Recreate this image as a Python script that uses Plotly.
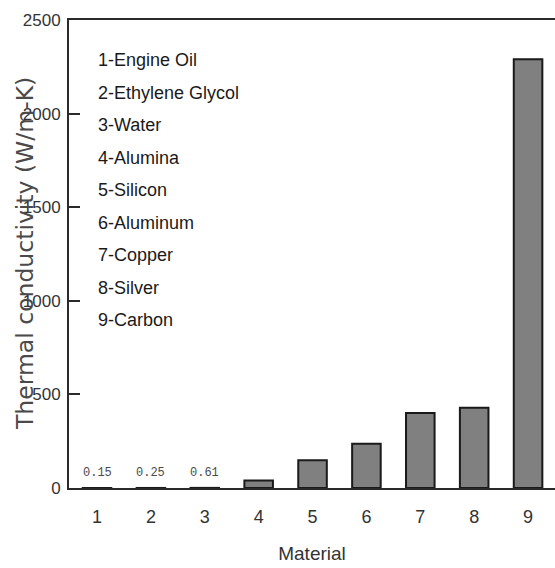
import plotly.graph_objects as go

# Thermal conductivity of common fluids and solids (W/m-K)
material_ids = [1, 2, 3, 4, 5, 6, 7, 8, 9]
material_names = ["Engine Oil", "Ethylene Glycol", "Water", "Alumina", "Silicon",
                  "Aluminum", "Copper", "Silver", "Carbon"]
conductivity = [0.15, 0.25, 0.61, 40, 148, 237, 401, 429, 2290]

# Values too small to see as bars get printed above the baseline
labelled_ids = [1, 2, 3]
labelled_values = [0.15, 0.25, 0.61]

y_ticks = [0, 500, 1000, 1500, 2000, 2500]

NARROW = "Liberation Sans Narrow, Arial Narrow, Liberation Sans, Arial, sans-serif"
W, H = 555, 568
ML, MT, MB, MR = 69, 20, 80, 0
PW, PH = W - ML - MR, H - MT - MB

fig = go.Figure()
fig.add_trace(go.Bar(
    x=material_ids,
    y=conductivity,
    width=0.53,
    marker=dict(color="#808080", line=dict(color="#1a1a1a", width=2)),
    hoverinfo="x+y",
))

annotations = []
for xi, v in zip(labelled_ids, labelled_values):
    annotations.append(dict(
        x=xi, y=v, xref="x", yref="y", text=f"{v:.2f}", showarrow=False,
        yanchor="bottom", yshift=6,
        font=dict(family="Liberation Mono, DejaVu Sans Mono, monospace", size=12, color="#4a4a4a"),
    ))

# Numbered key in the upper-left corner of the plot
for i, (num, name) in enumerate(zip(material_ids, material_names)):
    y_px = 60 + i * 32.5 - MT
    annotations.append(dict(
        x=(96 - ML) / PW, y=1 - y_px / PH, xref="paper", yref="paper",
        text=f"{num}-{name}", showarrow=False, xanchor="left", yanchor="middle",
        font=dict(family=NARROW, size=18, color="#1a1a1a"),
    ))

# Y axis title
annotations.append(dict(
    x=0, y=0.5, xref="paper", yref="paper", xshift=25 - ML,
    text="Thermal conductivity (W/m-K)", textangle=-90, showarrow=False,
    xanchor="center", yanchor="middle",
    font=dict(family="DejaVu Sans, sans-serif", size=23.5, color="#4a4a4a"),
))

fig.update_layout(
    width=W, height=H,
    margin=dict(l=ML, r=MR, t=MT, b=MB, pad=0),
    paper_bgcolor="white", plot_bgcolor="white",
    showlegend=False,
    annotations=annotations,
    xaxis=dict(
        range=[0.48, 9.5], tickmode="array", tickvals=material_ids,
        ticktext=[str(m) for m in material_ids], ticks="",
        showgrid=False, zeroline=False,
        showline=True, linecolor="#2a2a2a", linewidth=2, mirror=True,
        tickfont=dict(family=NARROW, size=18, color="#333333"),
        ticklabelstandoff=11,
        title=dict(text="Material", font=dict(family=NARROW, size=19, color="#333333"), standoff=21),
    ),
    yaxis=dict(
        range=[0, 2500], tickmode="array", tickvals=y_ticks, tickformat="d",
        ticks="inside", ticklen=11, tickwidth=1.5, tickcolor="#2a2a2a",
        showgrid=False, zeroline=False,
        showline=True, linecolor="#2a2a2a", linewidth=2, mirror=False,
        tickfont=dict(family=NARROW, size=17, color="#333333"),
        ticklabelstandoff=3,
    ),
)

fig.write_html("out.html")
